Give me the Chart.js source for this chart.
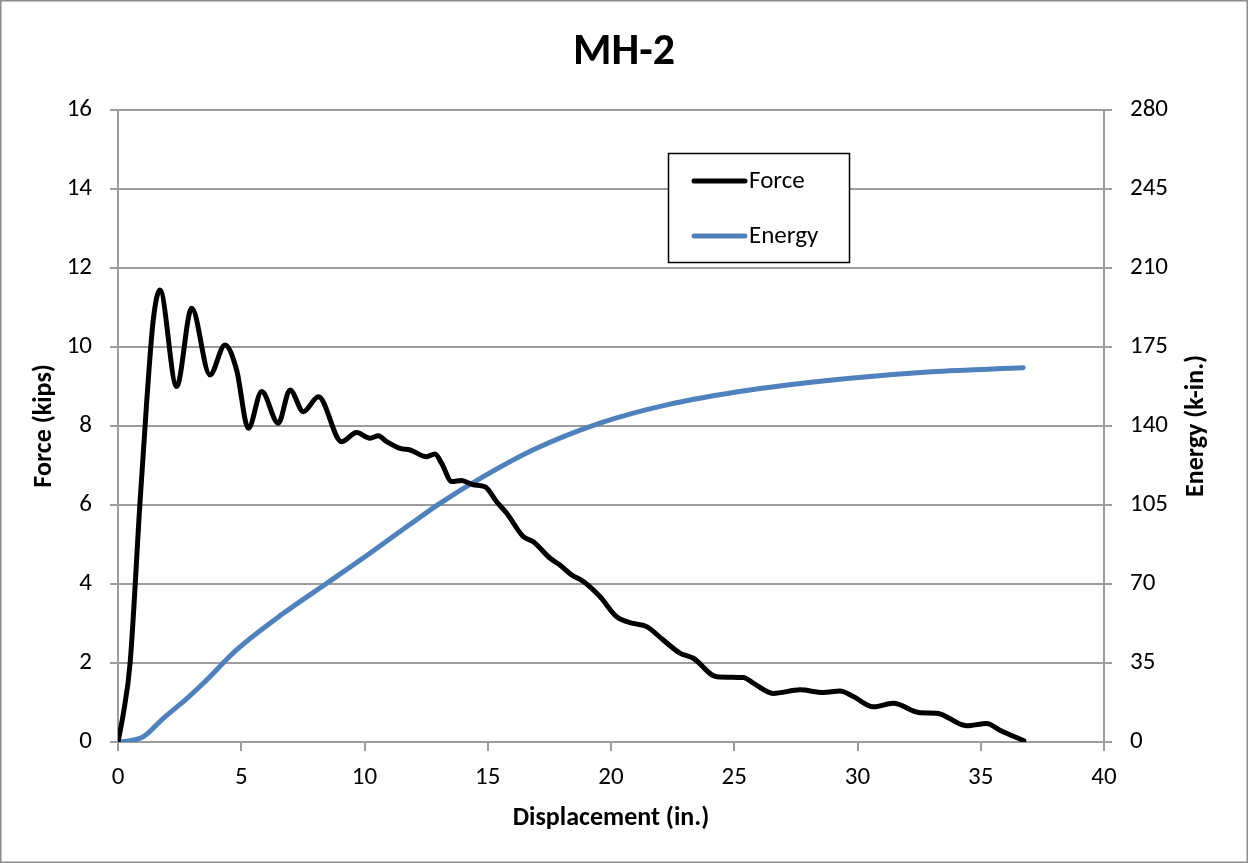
<!DOCTYPE html>
<html>
<head>
<meta charset="utf-8">
<script src="https://cdn.jsdelivr.net/npm/chart.js@4/dist/chart.umd.min.js"></script>
<style>
  html, body { margin: 0; padding: 0; background: #fff; }
  #wrap { width: 1248px; height: 863px; }
</style>
</head>
<body>
<div id="wrap"><canvas id="chart" width="1248" height="863"></canvas></div>
<script>
const chartTitle = "MH-2";

// displacement (in.) / force (kips)
const forceX = [0, 0.22, 0.49, 0.89, 1.16, 1.43, 1.70, 2.38, 2.99, 3.73, 4.34, 4.81, 5.29, 5.83, 6.50, 6.98, 7.52, 8.13,
  9.07, 9.68, 10.22, 10.56, 10.90, 11.44, 11.85, 12.52, 12.86, 13.13, 13.54, 13.94, 14.41, 14.89, 15.36, 15.77,
  16.44, 16.85, 17.53, 17.93, 18.40, 18.88, 19.55, 20.23, 20.91, 21.45, 22.12, 22.80, 23.34, 24.29, 25.37, 25.77,
  26.58, 27.67, 28.61, 29.29, 29.83, 30.64, 31.45, 32.54, 33.21, 34.43, 35.24, 35.78, 36.75];
const forceY = [0, 0.73, 1.99, 6.04, 8.57, 10.68, 11.44, 9.00, 10.98, 9.29, 10.05, 9.42, 7.94, 8.87, 8.07, 8.91, 8.36, 8.74,
  7.60, 7.83, 7.69, 7.75, 7.60, 7.43, 7.39, 7.22, 7.29, 7.05, 6.59, 6.62, 6.51, 6.46, 6.08, 5.79,
  5.20, 5.07, 4.65, 4.48, 4.23, 4.06, 3.68, 3.17, 3.00, 2.92, 2.58, 2.25, 2.12, 1.65, 1.63, 1.49,
  1.23, 1.32, 1.25, 1.29, 1.15, 0.89, 0.98, 0.74, 0.73, 0.41, 0.47, 0.30, 0.03];

// displacement (in.) / energy (k-in.)
const energyX = [0, 0.5, 1.03, 1.84, 2.79, 3.46, 4.81, 6.71, 8.47, 10.22, 11.85, 13.06, 14.82, 16.85, 19.55, 22.26, 25.64, 29.7, 33.0, 36.72];
const energyY = [0, 0.6, 2.35, 10.5, 19.2, 26.0, 40.8, 57.0, 70.3, 83.6, 96.4, 105.7, 117.5, 129.4, 141.2, 149.3, 155.9, 161.1, 164.0, 165.8];

const xTicks = [0, 5, 10, 15, 20, 25, 30, 35, 40];
const forceTicks = [0, 2, 4, 6, 8, 10, 12, 14, 16];
const energyTicks = [0, 35, 70, 105, 140, 175, 210, 245, 280];

const FONT = "Carlito, Lato, 'DejaVu Sans', sans-serif";
const GRID = "#9c9c9c";

const toPoints = (xs, ys) => xs.map((x, i) => ({ x, y: ys[i] }));

const frame = {
  id: "frame",
  beforeDraw(chart) {
    const c = chart.ctx;
    c.save();
    c.fillStyle = "#fff";
    c.fillRect(0, 0, chart.width, chart.height);
    c.restore();
  },
  afterDraw(chart) {
    const c = chart.ctx;
    c.save();
    // outer border
    c.strokeStyle = "#8c8c8c";
    c.lineWidth = 1.5;
    c.strokeRect(0.75, 0.75, chart.width - 1.5, chart.height - 1.5);

    // right axis title, reads bottom-to-top like the left one
    const y1 = chart.scales.y1;
    c.translate(1196, (y1.top + y1.bottom) / 2);
    c.rotate(-Math.PI / 2);
    c.font = "bold 26px " + FONT;
    c.fillStyle = "#000";
    c.textAlign = "center";
    c.textBaseline = "middle";
    c.fillText("Energy (k-in.)", 0, 0);
    c.restore();

    // legend box
    c.save();
    const bx = 668.5, by = 153.5, bw = 181, bh = 109;
    c.fillStyle = "#fff";
    c.fillRect(bx, by, bw, bh);
    c.strokeStyle = "#000";
    c.lineWidth = 1.5;
    c.strokeRect(bx, by, bw, bh);
    c.font = "25px " + FONT;
    c.textBaseline = "middle";
    c.lineCap = "round";
    chart.data.datasets.forEach((ds, i) => {
      const ly = 181 + i * 55;
      c.strokeStyle = ds.borderColor;
      c.lineWidth = 5;
      c.beginPath();
      c.moveTo(694, ly);
      c.lineTo(745, ly);
      c.stroke();
      c.fillStyle = "#000";
      c.fillText(ds.label, 749, ly + 1);
    });
    c.restore();
  }
};

new Chart(document.getElementById("chart"), {
  type: "line",
  data: {
    datasets: [
      {
        label: "Force",
        data: toPoints(forceX, forceY),
        yAxisID: "y",
        borderColor: "#000000",
        borderWidth: 5,
        pointRadius: 0,
        cubicInterpolationMode: "monotone",
        borderCapStyle: "round",
        fill: false
      },
      {
        label: "Energy",
        data: toPoints(energyX, energyY),
        yAxisID: "y1",
        borderColor: "#4f81bd",
        borderWidth: 5,
        pointRadius: 0,
        cubicInterpolationMode: "monotone",
        borderCapStyle: "round",
        fill: false
      }
    ]
  },
  options: {
    responsive: false,
    animation: false,
    events: [],
    layout: { padding: 0 },
    plugins: {
      legend: { display: false },
      tooltip: { enabled: false },
      title: {
        display: true,
        text: chartTitle,
        color: "#000",
        font: { family: FONT, size: 44, weight: "bold", lineHeight: 1.2 },
        padding: { top: 27, bottom: 30 }
      }
    },
    scales: {
      x: {
        type: "linear",
        min: 0, max: 40,
        afterBuildTicks: s => { s.ticks = xTicks.map(v => ({ value: v })); },
        afterFit: s => { s.height = 121; },
        grid: { drawOnChartArea: false, drawTicks: true, tickLength: 9, color: GRID, lineWidth: 2 },
        border: { color: GRID, width: 2 },
        ticks: { color: "#000", padding: 12, font: { family: FONT, size: 25 }, maxRotation: 0 },
        title: {
          display: true, text: "Displacement (in.)", color: "#000",
          font: { family: FONT, size: 26, weight: "bold", lineHeight: 1.2 },
          padding: { top: 0, bottom: 29 }
        }
      },
      y: {
        position: "left",
        min: 0, max: 16,
        afterBuildTicks: s => { s.ticks = forceTicks.map(v => ({ value: v })); },
        afterFit: s => { s.width = 118; },
        grid: { drawOnChartArea: true, drawTicks: true, tickLength: 8, color: GRID, lineWidth: 2 },
        border: { color: GRID, width: 2 },
        ticks: { color: "#000", padding: 18, font: { family: FONT, size: 25 } },
        title: {
          display: true, text: "Force (kips)", color: "#000",
          font: { family: FONT, size: 26, weight: "bold", lineHeight: 1.2 },
          padding: { top: 29, bottom: 0 }
        }
      },
      y1: {
        position: "right",
        min: 0, max: 280,
        afterBuildTicks: s => { s.ticks = energyTicks.map(v => ({ value: v })); },
        afterFit: s => { s.width = 144; },
        grid: { drawOnChartArea: false, drawTicks: true, tickLength: 8, color: GRID, lineWidth: 2 },
        border: { color: GRID, width: 2 },
        ticks: { color: "#000", padding: 18, font: { family: FONT, size: 25 } },
        title: { display: false }
      }
    }
  },
  plugins: [frame]
});
</script>
</body>
</html>
